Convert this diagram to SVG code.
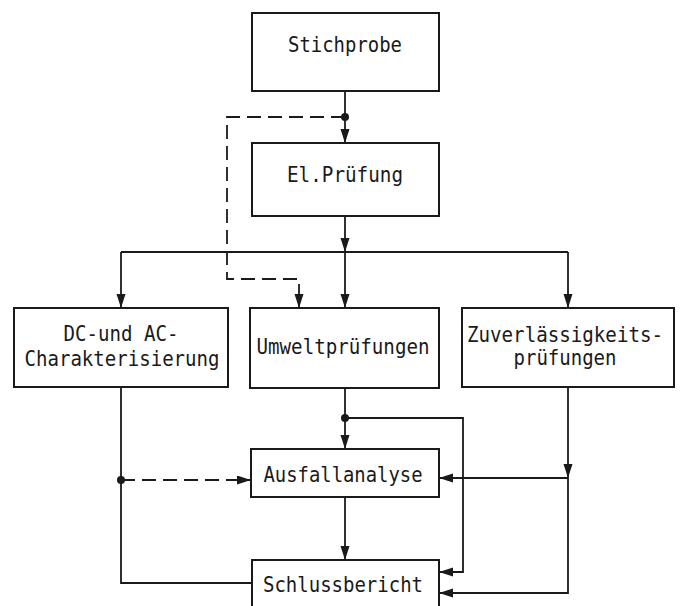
<svg xmlns="http://www.w3.org/2000/svg" width="681" height="606" viewBox="0 0 681 606">
<defs>
<marker id="arr" markerUnits="userSpaceOnUse" markerWidth="15" markerHeight="10" refX="14" refY="4.5" orient="auto">
<path d="M0,0 L14,4.5 L0,9 z" fill="#1a1a1a"/>
</marker>
<style>
.box{fill:#fff;stroke:#1a1a1a;stroke-width:2}
.t{font-family:"DejaVu Sans Mono","Liberation Mono",monospace;font-size:21px;fill:#1a1a1a;text-anchor:middle}
.c{fill:none;stroke:#1a1a1a;stroke-width:1.8}
.a{marker-end:url(#arr)}
.d{stroke-dasharray:14 7}
.dot{fill:#1a1a1a}
</style>
</defs>
<rect width="681" height="606" fill="#fff"/>
<g id="connectors">
<path class="c a" d="M345,91 V143"/>
<path class="c d a" d="M345,117 H227 V279 H299 V308"/>
<path class="c a" d="M345,216 V252"/>
<path class="c" d="M121,252 H568"/>
<path class="c a" d="M121,252 V308"/>
<path class="c a" d="M345,252 V308"/>
<path class="c a" d="M568,252 V308"/>
<path class="c" d="M121,387 V583 H252"/>
<path class="c d a" d="M121,480 H251"/>
<path class="c a" d="M345,388 V449"/>
<path class="c a" d="M345,418 H463 V572 H439"/>
<path class="c a" d="M568,387 V478"/>
<path class="c a" d="M568,478 H439"/>
<path class="c a" d="M568,478 V593 H439"/>
<path class="c a" d="M345,497 V560"/>
<circle class="dot" cx="345" cy="117" r="4"/>
<circle class="dot" cx="121" cy="480" r="4"/>
<circle class="dot" cx="345" cy="418" r="4"/>
</g>
<g id="stichprobe">
<rect class="box" x="252" y="13" width="187" height="78"/>
<text class="t" x="345" y="52" textLength="114" lengthAdjust="spacingAndGlyphs">Stichprobe</text>
</g>
<g id="elpruefung">
<rect class="box" x="252" y="143" width="187" height="73"/>
<text class="t" x="345" y="182" textLength="116" lengthAdjust="spacingAndGlyphs">El.Prüfung</text>
</g>
<g id="dcac">
<rect class="box" x="14" y="308" width="214" height="79"/>
<text class="t" x="121" y="341" textLength="115" lengthAdjust="spacingAndGlyphs">DC-und AC-</text>
<text class="t" x="122" y="366" textLength="195" lengthAdjust="spacingAndGlyphs">Charakterisierung</text>
</g>
<g id="umwelt">
<rect class="box" x="250" y="308" width="189" height="80"/>
<text class="t" x="343" y="354" textLength="173" lengthAdjust="spacingAndGlyphs">Umweltprüfungen</text>
</g>
<g id="zuverl">
<rect class="box" x="462" y="308" width="212" height="79"/>
<text class="t" x="565" y="342" textLength="196" lengthAdjust="spacingAndGlyphs">Zuverlässigkeits-</text>
<text class="t" x="565" y="365" textLength="103" lengthAdjust="spacingAndGlyphs">prüfungen</text>
</g>
<g id="ausfall">
<rect class="box" x="251" y="449" width="188" height="48"/>
<text class="t" x="343" y="482" textLength="159" lengthAdjust="spacingAndGlyphs">Ausfallanalyse</text>
</g>
<g id="schluss">
<rect class="box" x="252" y="560" width="187" height="56"/>
<text class="t" x="343" y="592" textLength="160" lengthAdjust="spacingAndGlyphs">Schlussbericht</text>
</g>
</svg>
